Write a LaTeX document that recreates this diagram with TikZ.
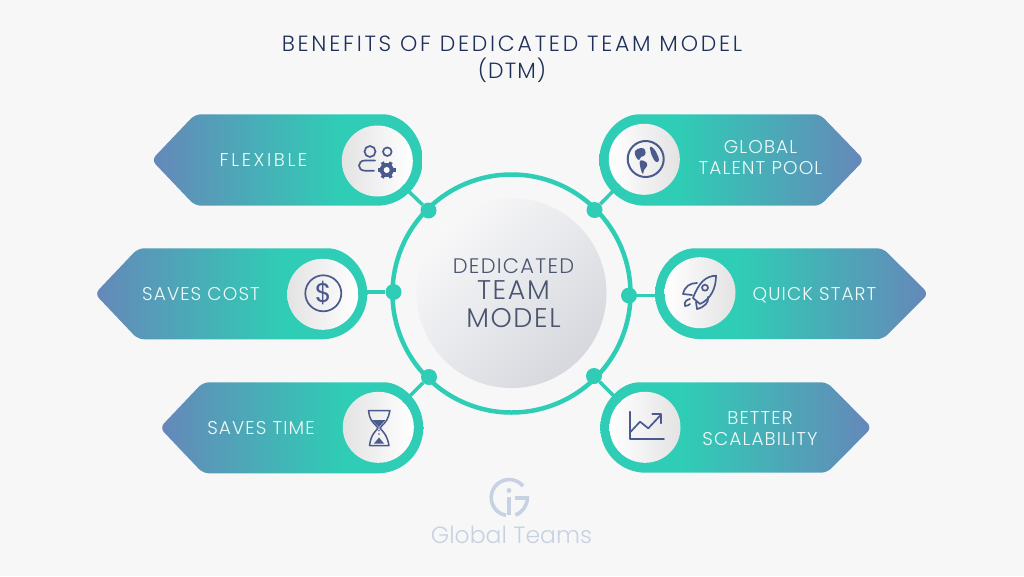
\documentclass[tikz,border=0pt]{standalone}
\usepackage{fontspec}
\setmainfont{Poppins Light}[LetterSpace=6.0]
\newfontfamily\logofont{Poppins Light}
\newfontfamily\dollarfont{Poppins}
\newfontfamily\titlefont{Poppins Light}[LetterSpace=12.5]
\usetikzlibrary{positioning}

\definecolor{pageback}{HTML}{F7F7F8}
\definecolor{pillteal}{HTML}{2FCDB5}
\definecolor{pillblue}{HTML}{6687B9}
\definecolor{titleink}{HTML}{1E2F5A}
\definecolor{hubink}{HTML}{4A556F}
\definecolor{hublight}{HTML}{F8F8F9}
\definecolor{hubdark}{HTML}{D6D8DE}
\definecolor{iconink}{HTML}{4A5A8C}
\definecolor{logoink}{HTML}{C6D2E1}
\pgfdeclarehorizontalshading{pillshade}{100bp}{color(0bp)=(pillblue); color(25bp)=(pillblue); color(60bp)=(pillteal); color(100bp)=(pillteal)}

\tikzset{
	pillpath/.style={shading=pillshade, rounded corners=6pt},
	pillflip/.style={pillpath, shading angle=180},
	pilltext/.style={text=white!92!pillteal, align=center, font=\fontsize{18.5}{21}\selectfont},
	discleft/.style={circle, minimum size=71pt, inner sep=0pt, outer sep=0pt, left color=black!11, right color=white},
	discright/.style={circle, minimum size=71pt, inner sep=0pt, outer sep=0pt, left color=white, right color=black!11},
	jointdot/.style={circle, fill=pillteal, minimum size=16pt, inner sep=0pt},
	linkline/.style={draw=pillteal, line width=3.5pt},
	iconline/.style={draw=iconink, line width=1.7pt, line cap=round, line join=round},
	iconfill/.style={fill=iconink, draw=none},
}

\begin{document}
\begin{tikzpicture}[x=1pt, y=-1pt]
	\useasboundingbox[fill=pageback] (0,0) rectangle (1024,576);

	% Title
	\node [text=titleink, align=center, font=\titlefont\fontsize{22}{27}\selectfont] (title) at (512,59) {BENEFITS OF DEDICATED TEAM MODEL\\\addfontfeature{LetterSpace=5.0}(DTM)};

	% Centre
	\node [circle, draw=pillteal, line width=4.5pt, minimum size=238pt, inner sep=0pt, outer sep=0pt] (ring) at (511.5,293.5) {};
	\node [circle, minimum size=190pt, inner sep=0pt, top color=hublight, bottom color=hubdark, shading angle=45] (hub) at (511.5,293) {};
	\node [text=hubink, align=center] (hubtext) at (513.5,293.5) {\fontsize{21}{26}\selectfont DEDICATED\\[6pt]\fontsize{27}{28}\selectfont TEAM\\[8pt]\fontsize{27}{28}\selectfont MODEL};

	% Pills
	\path [pillpath] (151.5,160) -- (195,114.3) -- (377,114.3) [sharp corners] arc[start angle=-90, end angle=90, radius=45.7] [rounded corners=6pt] -- (195,205.7) -- cycle;
	\path [pillflip] (864.2,160) -- (820,114.3) -- (645,114.3) [sharp corners] arc[start angle=-90, end angle=-270, radius=45.7] [rounded corners=6pt] -- (820,205.7) -- cycle;
	\path [pillpath] (94.8,293.8) -- (138,248.3) -- (321.8,248.3) [sharp corners] arc[start angle=-90, end angle=90, radius=45.5] [rounded corners=6pt] -- (138,339.3) -- cycle;
	\path [pillflip] (928.5,293.7) -- (883,248.3) -- (700.5,248.3) [sharp corners] arc[start angle=-90, end angle=-270, radius=45.4] [rounded corners=6pt] -- (883,339.1) -- cycle;
	\path [pillpath] (159.8,427.8) -- (203,382.3) -- (377.8,382.3) [sharp corners] arc[start angle=-90, end angle=90, radius=45.5] [rounded corners=6pt] -- (203,473.3) -- cycle;
	\path [pillflip] (871.8,427.5) -- (827,382.3) -- (645.5,382.3) [sharp corners] arc[start angle=-90, end angle=-270, radius=45.2] [rounded corners=6pt] -- (827,472.7) -- cycle;

	% Discs
	\node [discleft] (flexdisc) at (377.3,161) {};
	\node [discright] (globedisc) at (644.3,159.3) {};
	\node [discleft] (costdisc) at (322.7,294.3) {};
	\node [discright] (quickdisc) at (700,292.7) {};
	\node [discleft] (timedisc) at (378.3,427.3) {};
	\node [discright] (scaledisc) at (645,427.3) {};

	% Labels
	\node [pilltext] (flexlabel) at (263.5,160) {\addfontfeature{LetterSpace=14.0}FLEXIBLE};
	\node [pilltext] (globelabel) at (760.5,157.5) {GLOBAL\\TALENT POOL};
	\node [pilltext] (costlabel) at (201,294) {SAVES COST};
	\node [pilltext] (quicklabel) at (814.5,295) {QUICK START};
	\node [pilltext] (timelabel) at (261,428.5) {SAVES TIME};
	\node [pilltext] (scalelabel) at (760,429) {BETTER\\SCALABILITY};

	% Joints
	\node [jointdot] (flexjoint) at (428.5,210.5) {};
	\node [jointdot] (globejoint) at (594.5,210) {};
	\node [jointdot] (costjoint) at (393.5,292) {};
	\node [jointdot] (quickjoint) at (629,295.5) {};
	\node [jointdot] (timejoint) at (429,377) {};
	\node [jointdot] (scalejoint) at (594,376) {};

	% Links
	\draw [linkline] (flexjoint) -- (flexdisc);
	\draw [linkline] (globejoint) -- (globedisc);
	\draw [linkline] (costjoint) -- (costdisc.east |- costjoint);
	\draw [linkline] (quickjoint) -- (quickdisc.west |- quickjoint);
	\draw [linkline] (timejoint) -- (timedisc);
	\draw [linkline] (scalejoint) -- (scaledisc);

	% Icon: people and gear
	\draw [iconline] (370,151.5) circle[radius=5.5];
	\draw [iconline] (387.3,151.7) circle[radius=4.3];
	\draw [iconline] (375,160.5) -- (365,160.5) .. controls (357,160.5) and (357,170.7) .. (365,170.7) -- (374,170.7);
	\foreach \a in {0,60,...,300}
		\draw [draw=iconink, line width=3.4pt] (386.7,170) -- ++(\a:9);
	\fill [iconink] (386.7,170) circle[radius=7];
	\fill [white] (386.7,170) circle[radius=3];

	% Icon: globe
	\draw [iconline, line width=2pt] (645.7,159) circle[radius=18];
	\fill [iconfill] plot[smooth cycle, tension=0.7] coordinates {(635,151) (641,148) (645,150) (645,155) (641,157) (639,160) (636,157)};
	\fill [iconfill] plot[smooth cycle, tension=0.7] coordinates {(650,147) (654,149) (657,154) (659,160) (656,162) (652,156)};
	\fill [iconfill] plot[smooth cycle, tension=0.7] coordinates {(640,161) (646,162) (647,166) (644,170) (643,174) (641,170)};

	% Icon: dollar
	\draw [iconline] (323.3,293.3) circle[radius=18];
	\node [text=iconink, font=\dollarfont\fontsize{27}{27}\selectfont, inner sep=0pt] (dollar) at (323.3,293.3) {\$};

	% Icon: rocket
	\draw [iconline] (716,275.7) .. controls (706,276) and (699,282) .. (693,298) -- (700,304) .. controls (711,299) and (716,288) .. cycle;
	\draw [iconline] (705,287.7) circle[radius=3];
	\draw [iconline] (697,283) .. controls (690,283) and (685,286) .. (683,294) -- (692,295);
	\draw [iconline] (708,297) .. controls (709,302) and (705,307) .. (697,309) -- (696,302);
	\draw [iconline] (690,299) .. controls (686,300) and (684,302) .. (685,306) .. controls (687,306) and (689,305) .. (690,304);

	% Icon: hourglass
	\draw [iconline, line width=1.5pt] (368.5,410.5) -- (390,410.5) -- (388.5,416) .. controls (387,422) and (382,425) .. (380,428) .. controls (382,431) and (387,434) .. (389,445.5) -- (369.5,445.5) .. controls (371,434) and (376,431) .. (378,428) .. controls (376,425) and (371,422) .. (369.5,416) -- cycle;
	\fill [iconfill] (372,420) -- (385.5,420) -- (379,427) -- cycle;
	\fill [iconfill] (374,443.5) -- (384,443.5) -- (379,437.5) -- cycle;
	\fill [iconink] (379,430.5) circle[radius=0.9] (379,434) circle[radius=0.9];

	% Icon: chart
	\draw [iconline] (630,411.7) -- (630,439.3) -- (664,439.3);
	\draw [iconline] (630.7,431.7) -- (640,421.7) -- (648.3,428.3) -- (660.7,415);
	\draw [iconline] (652.3,414.3) -- (661.3,414.3) -- (661.3,423.3);

	% Logo
	\draw [draw=logoink, line width=3.6pt] (523,486) arc[start angle=-40, end angle=-260, radius=18];
	\draw [draw=logoink, line width=3.6pt] (515,498) -- (527.3,498) arc[start angle=0, end angle=70, radius=18];
	\draw [draw=logoink, line width=3.6pt] (509,497) -- (509,515);
	\fill [logoink] (509,490.5) circle[radius=2.4];
	\node [text=logoink, font=\logofont\fontsize{23.5}{24}\selectfont] (brand) at (511.5,535) {Global Teams};
\end{tikzpicture}
\end{document}
